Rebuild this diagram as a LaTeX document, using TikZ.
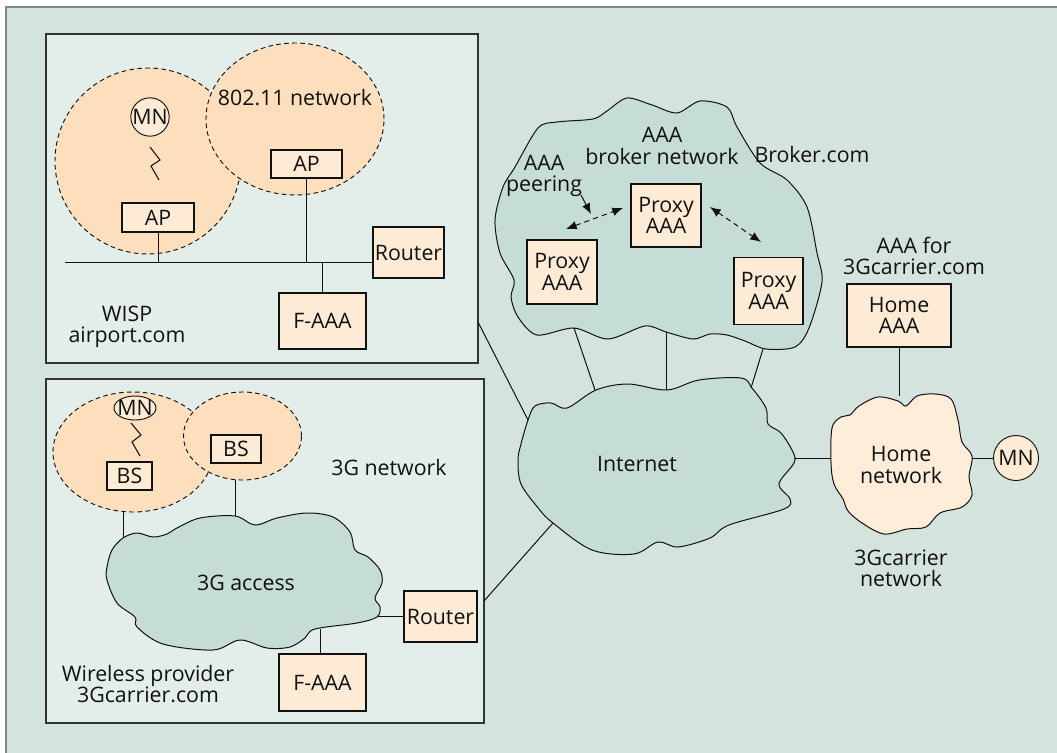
\documentclass[tikz,border=0pt]{standalone}
\usepackage{fontspec}
\setmainfont{Open Sans}
\usetikzlibrary{arrows.meta,shapes.geometric}
\definecolor{panel}{HTML}{D5E3DF}
\definecolor{innerc}{HTML}{E3EDEA}
\definecolor{cloudc}{HTML}{C6DCD7}
\definecolor{peach}{HTML}{FDDFBD}
\definecolor{boxc}{HTML}{FEEBD6}
\definecolor{homec}{HTML}{FEEDD8}
\definecolor{framec}{HTML}{7F8684}
\definecolor{ink}{HTML}{111111}
\begin{document}
\begin{tikzpicture}[x=0.75pt,y=-0.75pt,
  every node/.style={font=\fontsize{16}{16}\selectfont, text=ink},
  box/.style={draw=ink, fill=boxc, line width=0.8pt, inner sep=0pt, align=center},
  lbl/.style={align=center, inner sep=0pt},
  zone/.style={draw=ink, fill=peach, line width=0.7pt, dash pattern=on 3.5pt off 2.5pt, ellipse, inner sep=0pt},
  mnnode/.style={draw=ink, fill=boxc, line width=0.7pt, inner sep=0pt},
  link/.style={line width=0.75pt, draw=ink},
  cloudfill/.style={draw=ink, fill=cloudc, line width=0.75pt},
  innerbox/.style={draw=black!80, fill=innerc, line width=0.9pt, inner sep=0pt},
  dasharrow/.style={line width=0.75pt, draw=ink, dash pattern=on 4pt off 3pt, {Latex[length=8pt,width=6.5pt]}-{Latex[length=8pt,width=6.5pt]}},
  zig/.style={line width=0.8pt, draw=ink, line join=miter}
]
\fill[white] (0,0) rectangle (1057,753);
\useasboundingbox (0,0) rectangle (1057,753);
\fill[panel] (6,7) rectangle (1075,775);
\draw[framec, line width=2pt] (6,775) -- (6,7) -- (1075,7);

% ---------- WISP box ----------
\node[innerbox, minimum width=324pt, minimum height=246.75pt] (wisp) at (262,198.5) {};
\node[zone, minimum width=139.5pt, minimum height=139.5pt] (zl) at (148,161) {};
\node[zone, minimum width=133.5pt, minimum height=114pt] (zr) at (295,119) {};
\node[lbl] (t80211) at (295,98) {802.11 network};
\node[mnnode, circle, minimum size=28.5pt] (mn1) at (150,117) {MN};
\coordinate (z1a) at (150,147);
\coordinate (z1b) at (160,160);
\coordinate (z1c) at (151,166);
\coordinate (z1d) at (159,180);
\draw[zig] (z1a) -- (z1b) -- (z1c) -- (z1d);
\node[box, minimum width=54pt, minimum height=21.75pt] (apl) at (158,217.5) {AP};
\node[box, minimum width=53.25pt, minimum height=21pt] (apr) at (306.5,164) {AP};
\node[box, minimum width=53.25pt, minimum height=38.25pt] (router1) at (408.5,252.5) {Router};
\node[box, minimum width=65.25pt, minimum height=42pt] (faaa1) at (322.5,321) {F-AAA};
\coordinate (busl) at (65,262);
\draw[link] (busl) -- (busl -| router1.west);
\draw[link] (apl.south) -- (apl.south |- busl);
\draw[link] (apr.south) -- (apr.south |- busl);
\draw[link] (faaa1.north) -- (faaa1.north |- busl);
\node[lbl] (twisp) at (127,327) {WISP\\airport.com};

% ---------- 3G box ----------
\node[innerbox, minimum width=328.5pt, minimum height=258pt] (gbox) at (265,551) {};
\node[zone, minimum width=120pt, minimum height=90pt] (gl) at (133,452) {};
\node[zone, minimum width=88.5pt, minimum height=66pt] (gr) at (242.5,436) {};
\node[mnnode, ellipse, minimum width=31.5pt, minimum height=18pt] (mn2) at (135,408) {};
\node[lbl] (mn2t) at (mn2) {MN};
\coordinate (z2a) at (131,423);
\coordinate (z2b) at (141,435);
\coordinate (z2c) at (132,442);
\coordinate (z2d) at (140,456);
\draw[zig] (z2a) -- (z2b) -- (z2c) -- (z2d);
\node[box, minimum width=33.75pt, minimum height=21pt] (bsl) at (129.5,476) {BS};
\node[box, minimum width=37.5pt, minimum height=21pt] (bsr) at (236,449) {BS};
\node[lbl] (t3gn) at (389,467) {3G network};
\draw[cloudfill] plot[smooth cycle, tension=0.55] coordinates {
 (123,538) (137,533) (153,537) (167,534) (177,528) (200,518) (235,516) (255,525)
 (277,518) (307,513) (333,517) (350,532) (355,550) (368,557) (380,570) (382,583)
 (375,598) (380,607) (377,617) (357,623) (315,629) (305,638) (290,647) (267,648)
 (240,640) (213,650) (163,644) (137,627) (135,617) (117,603) (107,580) (107,567) (112,550)};
\node[lbl] (t3ga) at (246,583) {3G access};
\coordinate (gle) at (123,512);
\coordinate (glc) at (123,538);
\coordinate (gre) at (235,480);
\coordinate (grc) at (235,516);
\draw[link] (gle) -- (glc);
\draw[link] (gre) -- (grc);
\node[box, minimum width=54.75pt, minimum height=38.25pt] (router2) at (440.5,616.5) {Router};
\node[box, minimum width=65.25pt, minimum height=42.75pt] (faaa2) at (322.5,682.5) {F-AAA};
\coordinate (gcr) at (377,616.5);
\coordinate (gcb) at (320,629);
\draw[link] (gcr) -- (router2.west);
\draw[link] (gcb) -- (gcb |- faaa2.north);
\node[lbl] (twp) at (148,684) {Wireless provider\\3Gcarrier.com};

% ---------- Broker cloud ----------
\draw[cloudfill] plot[smooth cycle, tension=0.5] coordinates {
 (538,128) (557,122) (593,119) (607,111) (627,98) (652,105) (677,113) (700,101)
 (727,107) (737,127) (760,163) (787,180) (807,207) (817,253) (822,282) (809,328)
 (795,347) (766,349) (745,341) (727,335) (710,334) (693,339) (666,332) (645,326)
 (608,339) (574,328) (537,335) (518,317) (511,297) (514,280) (500,253) (495,220)
 (503,187) (515,167)};
\node[lbl] (tbroker) at (662,146) {AAA\\broker network};
\node[lbl] (tpeer) at (544,176) {AAA\\peering};
\node[lbl] (tbcom) at (812,155) {Broker.com};
\node[box, minimum width=52.5pt, minimum height=47.25pt] (pc) at (666,215.5) {Proxy\\AAA};
\node[box, minimum width=52.5pt, minimum height=48pt] (pl) at (562,272) {Proxy\\AAA};
\node[box, minimum width=51.75pt, minimum height=50.25pt] (pr) at (768.5,291) {Proxy\\AAA};
\coordinate (pa1) at (581,195);
\coordinate (pa2) at (591,214);
\draw[link, -{Latex[length=8pt,width=6.5pt]}] (pa1) -- (pa2);
\coordinate (da1) at (566,229);
\coordinate (da2) at (623,208);
\coordinate (db1) at (710,207);
\coordinate (db2) at (761,242);
\draw[dasharrow] (da1) -- (da2);
\draw[dasharrow] (db1) -- (db2);

% ---------- Internet ----------
\draw[cloudfill] plot[smooth cycle, tension=0.55] coordinates {
 (528,420) (535,406) (551,403) (567,408) (596,390) (628,384) (667,390) (699,380)
 (741,378) (752,388) (766,408) (768,424) (781,433) (793,452) (794,463) (779,484)
 (790,499) (784,509) (729,525) (710,538) (678,547) (658,542) (634,554) (592,550)
 (553,523) (539,509) (521,484) (518,460) (521,444)};
\node[lbl] (tinet) at (637,464) {Internet};
\coordinate (b1) at (574,328);
\coordinate (i1) at (595,390);
\coordinate (b2) at (666,332);
\coordinate (i2) at (666,390);
\coordinate (b3) at (763,349);
\coordinate (i3) at (751,388);
\draw[link] (b1) -- (i1);
\draw[link] (b2) -- (i2);
\draw[link] (b3) -- (i3);
\coordinate (w1) at (478,322);
\coordinate (iw) at (528,420);
\draw[link] (w1) -- (iw);
\coordinate (g1) at (484,601);
\coordinate (ig) at (553,523);
\draw[link] (g1) -- (ig);

% ---------- Home ----------
\node[lbl] (taaafor) at (914,256) {AAA for\\3Gcarrier.com};
\node[box, minimum width=78pt, minimum height=47.25pt] (haaa) at (899,315.5) {Home\\AAA};
\draw[fill=homec, draw=ink, line width=0.75pt] plot[smooth cycle, tension=0.55] coordinates {
 (832,428) (841,417) (850,415) (859,406) (878,397) (898,401) (906,406) (917,396)
 (935,394) (951,399) (958,420) (962,442) (972,456) (969,477) (972,495) (962,507)
 (940,513) (926,527) (907,529) (884,534) (862,523) (848,511) (843,499) (834,484) (831,463)};
\node[lbl] (thome) at (901,465) {Home\\network};
\coordinate (hc) at (899,396);
\draw[link] (haaa.south) -- (hc);
\coordinate (ie) at (794,458);
\coordinate (hw) at (831,458);
\draw[link] (ie) -- (hw);
\node[mnnode, circle, minimum size=33.75pt] (mn3) at (1016,458) {MN};
\coordinate (he) at (972,458);
\draw[link] (he) -- (mn3.west);
\node[lbl] (t3gc) at (901,568) {3Gcarrier\\network};
\end{tikzpicture}
\end{document}
